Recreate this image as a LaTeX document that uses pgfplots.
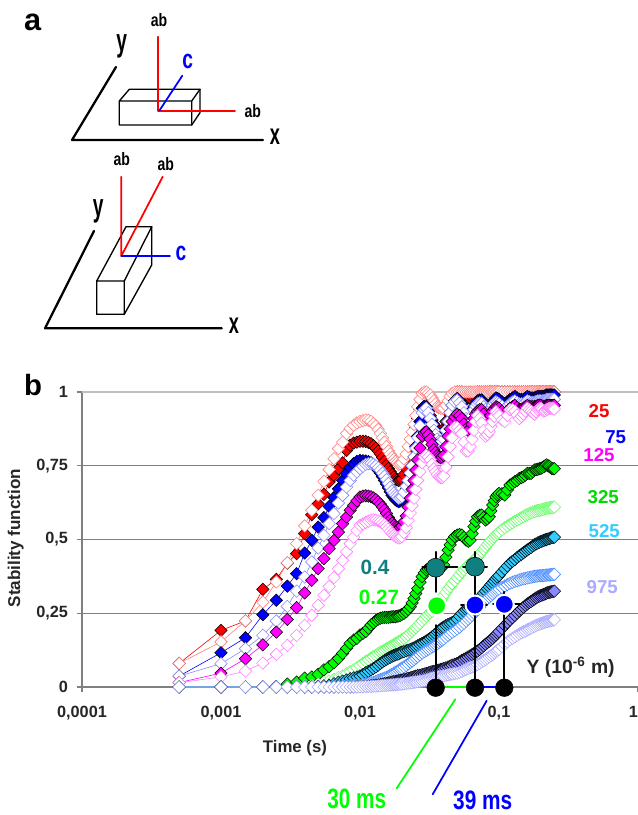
\documentclass[border=0pt]{standalone}
\usepackage{pgfplots}
\usepackage{pgfplotstable}
\usepackage{fontspec}
\setmainfont{Liberation Sans}
\pgfplotsset{compat=1.18}
\definecolor{mag}{HTML}{FF00FF}
\definecolor{salm}{HTML}{FF7F7F}
\definecolor{oblue}{HTML}{8888FF}
\definecolor{opink}{HTML}{FF80FF}
\definecolor{lgreen}{HTML}{66FF66}
\definecolor{tealf}{HTML}{33CCFF}
\definecolor{oblue2}{HTML}{4488FF}
\definecolor{lil}{HTML}{AAAAFF}
\definecolor{tealc}{HTML}{0F7F80}
\definecolor{ggrid}{HTML}{808080}
\definecolor{tick}{HTML}{262626}
\pgfplotstableread{
t R S B O M P G L T U K V
0.0005 0.08 0.08 0.037 0.037 0.015 0.015 0 0 0 0 0 0
0.001 0.192 0.153 0.116 0.079 0.047 0.034 0 0 0 0 0 0
0.0015 0.224 0.224 0.167 0.13 0.096 0.054 0 0 0 0 0 0
0.002 0.331 0.288 0.245 0.175 0.143 0.081 0 0 0 0 0 0
0.0025 0.365 0.356 0.294 0.224 0.186 0.111 0.002 0 0 0 0 0
0.003 0.42 0.421 0.342 0.273 0.229 0.141 0.01 0 0 0 0 0
0.0035 0.452 0.486 0.384 0.325 0.269 0.175 0.017 0 0 0 0 0
0.004 0.52 0.546 0.454 0.373 0.319 0.209 0.03 0.003 0 0 0 0
0.0045 0.584 0.599 0.497 0.424 0.362 0.243 0.034 0.006 0 0 0 0
0.005 0.621 0.65 0.542 0.471 0.401 0.277 0.043 0.01 0.002 0 0 0
0.0055 0.653 0.697 0.574 0.514 0.435 0.311 0.058 0.015 0.004 0 0 0
0.006 0.695 0.737 0.612 0.554 0.469 0.341 0.069 0.02 0.006 0.001 0 0
0.0065 0.718 0.774 0.642 0.588 0.497 0.371 0.082 0.026 0.011 0.001 0 0
0.007 0.74 0.808 0.672 0.624 0.525 0.401 0.097 0.032 0.016 0.002 0 0
0.0075 0.76 0.83 0.70 0.65 0.554 0.429 0.114 0.038 0.02 0.002 0 0
0.008 0.802 0.859 0.723 0.678 0.576 0.458 0.131 0.045 0.024 0.003 0 0
0.0085 0.82 0.876 0.744 0.70 0.599 0.486 0.148 0.052 0.028 0.003 0 0
0.009 0.827 0.887 0.757 0.718 0.616 0.508 0.159 0.058 0.031 0.004 0 0
0.0095 0.83 0.895 0.765 0.729 0.631 0.531 0.165 0.065 0.034 0.005 0.001 0
0.01 0.833 0.90 0.768 0.74 0.644 0.548 0.176 0.073 0.037 0.006 0.002 0.001
0.0105 0.833 0.903 0.767 0.748 0.647 0.553 0.182 0.08 0.042 0.008 0.002 0.001
0.011 0.832 0.905 0.766 0.755 0.648 0.558 0.188 0.087 0.048 0.01 0.003 0.002
0.0115 0.829 0.904 0.764 0.757 0.647 0.562 0.199 0.092 0.053 0.012 0.003 0.002
0.012 0.825 0.90 0.76 0.758 0.645 0.566 0.21 0.098 0.058 0.014 0.004 0.002
0.0125 0.818 0.893 0.753 0.755 0.641 0.567 0.218 0.103 0.063 0.016 0.005 0.003
0.013 0.81 0.885 0.745 0.75 0.635 0.566 0.225 0.108 0.068 0.019 0.006 0.003
0.0135 0.80 0.873 0.735 0.743 0.628 0.563 0.23 0.113 0.074 0.022 0.007 0.004
0.014 0.79 0.86 0.725 0.735 0.62 0.56 0.233 0.118 0.08 0.025 0.008 0.004
0.0145 0.778 0.845 0.713 0.725 0.61 0.555 0.235 0.121 0.085 0.027 0.01 0.005
0.015 0.765 0.83 0.70 0.715 0.60 0.55 0.236 0.125 0.09 0.03 0.011 0.005
0.0155 0.752 0.815 0.688 0.703 0.588 0.543 0.236 0.129 0.094 0.033 0.012 0.006
0.016 0.74 0.80 0.675 0.69 0.575 0.535 0.236 0.133 0.098 0.036 0.014 0.006
0.0165 0.73 0.79 0.662 0.677 0.565 0.527 0.237 0.137 0.101 0.04 0.015 0.007
0.017 0.72 0.78 0.65 0.665 0.555 0.52 0.238 0.14 0.104 0.043 0.017 0.007
0.0175 0.712 0.772 0.642 0.657 0.548 0.515 0.238 0.143 0.107 0.047 0.018 0.008
0.018 0.705 0.765 0.635 0.65 0.542 0.51 0.238 0.147 0.109 0.05 0.019 0.008
0.0185 0.702 0.76 0.631 0.645 0.54 0.507 0.24 0.15 0.111 0.053 0.02 0.009
0.019 0.70 0.755 0.628 0.64 0.538 0.505 0.241 0.153 0.113 0.057 0.021 0.009
0.0195 0.702 0.757 0.631 0.642 0.541 0.507 0.243 0.157 0.116 0.061 0.022 0.01
0.02 0.705 0.76 0.635 0.645 0.545 0.51 0.246 0.16 0.118 0.064 0.023 0.01
0.0207 0.72 0.773 0.65 0.66 0.56 0.523 0.25 0.165 0.12 0.068 0.025 0.011
0.0215 0.74 0.79 0.67 0.68 0.58 0.54 0.255 0.17 0.123 0.073 0.027 0.012
0.0222 0.765 0.815 0.695 0.70 0.61 0.565 0.263 0.177 0.125 0.078 0.029 0.013
0.023 0.79 0.84 0.72 0.725 0.64 0.59 0.272 0.183 0.127 0.084 0.031 0.014
0.0237 0.82 0.865 0.75 0.75 0.67 0.615 0.285 0.189 0.13 0.088 0.033 0.015
0.0245 0.85 0.89 0.78 0.78 0.70 0.64 0.30 0.195 0.133 0.093 0.035 0.016
0.0252 0.88 0.92 0.815 0.81 0.735 0.67 0.317 0.201 0.136 0.098 0.037 0.017
0.026 0.91 0.95 0.85 0.845 0.77 0.70 0.334 0.208 0.14 0.103 0.039 0.018
0.027 0.94 0.975 0.90 0.885 0.81 0.73 0.355 0.216 0.144 0.109 0.04 0.019
0.028 0.965 0.995 0.945 0.93 0.85 0.76 0.374 0.224 0.148 0.115 0.042 0.02
0.029 0.965 1 0.952 0.94 0.862 0.78 0.387 0.232 0.152 0.12 0.044 0.022
0.03 0.96 1 0.95 0.945 0.865 0.785 0.397 0.24 0.156 0.124 0.046 0.024
0.031 0.94 0.995 0.935 0.93 0.855 0.78 0.40 0.246 0.16 0.128 0.048 0.026
0.032 0.92 0.99 0.915 0.91 0.84 0.77 0.402 0.252 0.165 0.132 0.05 0.028
0.033 0.905 0.98 0.895 0.89 0.822 0.755 0.402 0.257 0.17 0.136 0.052 0.03
0.034 0.89 0.97 0.875 0.87 0.805 0.74 0.402 0.262 0.175 0.139 0.053 0.031
0.035 0.88 0.96 0.86 0.855 0.795 0.73 0.402 0.268 0.18 0.143 0.055 0.032
0.036 0.87 0.95 0.85 0.84 0.785 0.72 0.402 0.275 0.186 0.147 0.056 0.034
0.037 0.866 0.947 0.843 0.833 0.78 0.713 0.402 0.283 0.191 0.151 0.058 0.035
0.038 0.865 0.945 0.84 0.83 0.777 0.71 0.402 0.292 0.196 0.155 0.059 0.036
0.039 0.868 0.945 0.843 0.832 0.779 0.71 0.406 0.301 0.20 0.159 0.061 0.037
0.04 0.875 0.945 0.85 0.84 0.785 0.715 0.414 0.31 0.203 0.163 0.063 0.038
0.0415 0.90 0.955 0.875 0.87 0.815 0.745 0.44 0.32 0.208 0.169 0.065 0.04
0.043 0.93 0.97 0.90 0.90 0.85 0.78 0.464 0.332 0.212 0.175 0.068 0.041
0.0445 0.96 0.985 0.93 0.93 0.875 0.815 0.482 0.34 0.215 0.18 0.071 0.043
0.046 0.985 0.995 0.955 0.955 0.90 0.845 0.498 0.35 0.218 0.186 0.074 0.044
0.048 0.995 1 0.97 0.967 0.915 0.88 0.51 0.36 0.224 0.191 0.077 0.046
0.05 1 1 0.978 0.973 0.925 0.88 0.515 0.37 0.23 0.197 0.08 0.047
0.052 1 1 0.97 0.963 0.92 0.87 0.517 0.38 0.24 0.203 0.085 0.05
0.054 1 1 0.96 0.95 0.91 0.86 0.515 0.39 0.25 0.21 0.09 0.053
0.056 0.995 1 0.942 0.93 0.892 0.83 0.507 0.398 0.257 0.216 0.094 0.057
0.058 0.985 1 0.925 0.91 0.875 0.80 0.498 0.405 0.262 0.223 0.098 0.06
0.06 0.98 1 0.918 0.902 0.87 0.80 0.494 0.412 0.265 0.23 0.102 0.063
0.062 0.98 1 0.92 0.905 0.875 0.815 0.498 0.418 0.268 0.236 0.106 0.066
0.064 0.985 1 0.935 0.92 0.89 0.84 0.52 0.424 0.271 0.243 0.11 0.068
0.066 0.99 1 0.95 0.94 0.91 0.87 0.544 0.43 0.275 0.25 0.114 0.07
0.068 0.995 1 0.96 0.952 0.925 0.90 0.562 0.435 0.282 0.256 0.118 0.073
0.07 1 1 0.97 0.96 0.935 0.92 0.577 0.44 0.29 0.262 0.122 0.076
0.0725 1 1 0.973 0.963 0.94 0.91 0.582 0.449 0.30 0.271 0.127 0.08
0.075 1 1 0.973 0.962 0.94 0.895 0.583 0.458 0.31 0.28 0.133 0.085
0.0775 1 1 0.962 0.95 0.925 0.87 0.574 0.466 0.318 0.288 0.139 0.089
0.08 1 1 0.95 0.94 0.905 0.85 0.566 0.475 0.325 0.295 0.145 0.093
0.0825 1 1 0.947 0.935 0.903 0.855 0.57 0.483 0.333 0.30 0.15 0.098
0.085 1 1 0.945 0.933 0.905 0.865 0.577 0.49 0.34 0.305 0.155 0.102
0.0875 1 1 0.955 0.943 0.92 0.883 0.597 0.497 0.347 0.31 0.16 0.106
0.09 1 1 0.965 0.955 0.935 0.90 0.617 0.503 0.353 0.315 0.165 0.11
0.0925 1 1 0.973 0.962 0.943 0.917 0.632 0.509 0.36 0.32 0.171 0.115
0.095 1 1 0.98 0.967 0.95 0.933 0.645 0.515 0.367 0.325 0.176 0.12
0.0975 1 1 0.978 0.964 0.948 0.927 0.652 0.52 0.373 0.329 0.182 0.124
0.1 1 1 0.975 0.96 0.945 0.92 0.656 0.525 0.378 0.332 0.188 0.128
0.105 1 1 0.967 0.952 0.935 0.905 0.655 0.533 0.39 0.337 0.198 0.137
0.11 1 1 0.96 0.945 0.925 0.90 0.651 0.54 0.40 0.342 0.208 0.145
0.115 1 1 0.968 0.952 0.935 0.92 0.668 0.546 0.41 0.347 0.218 0.153
0.12 1 1 0.975 0.96 0.945 0.94 0.685 0.552 0.42 0.352 0.227 0.16
0.125 1 1 0.98 0.966 0.95 0.94 0.69 0.557 0.426 0.355 0.235 0.165
0.13 1 1 0.985 0.97 0.955 0.935 0.696 0.562 0.432 0.358 0.243 0.17
0.135 1 1 0.98 0.965 0.948 0.922 0.70 0.566 0.439 0.36 0.25 0.175
0.14 1 1 0.975 0.96 0.94 0.91 0.707 0.57 0.445 0.363 0.258 0.18
0.145 1 1 0.975 0.96 0.942 0.917 0.71 0.574 0.45 0.365 0.264 0.184
0.15 1 1 0.975 0.96 0.945 0.925 0.713 0.578 0.455 0.367 0.27 0.187
0.155 1 1 0.98 0.965 0.95 0.935 0.718 0.582 0.46 0.368 0.276 0.19
0.16 1 1 0.985 0.97 0.955 0.945 0.724 0.585 0.465 0.37 0.282 0.194
0.165 1 1 0.982 0.968 0.952 0.94 0.724 0.588 0.469 0.371 0.286 0.197
0.17 1 1 0.98 0.965 0.95 0.935 0.724 0.59 0.473 0.372 0.29 0.20
0.175 1 1 0.98 0.965 0.95 0.93 0.73 0.593 0.478 0.374 0.294 0.203
0.18 1 1 0.98 0.965 0.95 0.925 0.736 0.595 0.482 0.375 0.298 0.206
0.185 1 1 0.983 0.968 0.952 0.932 0.737 0.597 0.485 0.376 0.302 0.209
0.19 1 1 0.985 0.97 0.955 0.94 0.738 0.598 0.488 0.376 0.305 0.211
0.195 1 1 0.985 0.97 0.955 0.943 0.74 0.599 0.491 0.377 0.308 0.213
0.2 1 1 0.985 0.97 0.955 0.945 0.741 0.60 0.493 0.377 0.31 0.215
0.205 1 1 0.985 0.97 0.952 0.94 0.744 0.602 0.495 0.378 0.312 0.217
0.21 1 1 0.985 0.97 0.95 0.935 0.747 0.603 0.497 0.378 0.314 0.218
0.215 1 1 0.988 0.972 0.952 0.937 0.75 0.605 0.499 0.379 0.316 0.22
0.22 1 1 0.99 0.975 0.955 0.94 0.753 0.606 0.50 0.379 0.318 0.222
0.225 1 1 0.99 0.975 0.955 0.942 0.75 0.607 0.502 0.38 0.32 0.223
0.23 1 1 0.99 0.975 0.955 0.945 0.748 0.608 0.503 0.38 0.321 0.224
0.235 1 1 0.99 0.975 0.955 0.945 0.744 0.608 0.505 0.381 0.322 0.225
0.24 1 1 0.99 0.975 0.955 0.945 0.74 0.608 0.506 0.381 0.323 0.226
0.245 1 1 0.99 0.975 0.955 0.944 0.74 0.609 0.507 0.382 0.324 0.227
0.25 1 1 0.99 0.975 0.955 0.942 0.74 0.61 0.508 0.382 0.325 0.228
}\curves
\newcommand{\cond}[2]{\scalebox{#1}[1]{\bfseries #2}}
\pgfplotsset{
  filledser/.style={color=#1, line width=0.45pt, mark=square*, mark size=3.3pt,
    mark options={rotate=45, draw=black, line width=0.4pt, fill=#1}},
  openser/.style={color=#1, line width=0.45pt, mark=square*, mark size=3.3pt,
    mark options={rotate=45, draw=#1, line width=0.45pt, fill=white}},
}
\begin{document}
\begin{tikzpicture}
\path[use as bounding box] (0,0) rectangle (478.5pt,611.25pt);
\begin{axis}[
  at={(61.5pt,96pt)}, anchor=south west,
  scale only axis, width=417pt, height=221.25pt,
  xmode=log, xmin=0.0001, xmax=1, ymin=0, ymax=1,
  clip=false,
  axis x line=bottom, axis y line=left,
  axis line style={-, ggrid, line width=1.3pt},
  xtick={0.0001,0.001,0.01,0.1,1},
  xticklabels={0{,}0001,0{,}001,0{,}01,0{,}1,\makebox[0pt][r]{1}},
  minor x tick num=0, xminorticks=false,
  ytick={0,0.25,0.5,0.75,1},
  yticklabels={0,{0,25},{0,5},{0,75},1},
  tick style={ggrid, line width=0.8pt},
  tick align=outside, major tick length=4pt,
  ymajorgrids, grid style={ggrid, line width=1pt},
  x tick label style={font=\fontsize{12.2}{14}\selectfont\bfseries, text=tick, yshift=-7pt},
  y tick label style={font=\fontsize{12.2}{14}\selectfont\bfseries, text=tick, xshift=-3pt},
  xlabel={Time (s)}, ylabel={Stability function},
  xlabel style={font=\fontsize{12.6}{14}\selectfont\bfseries, text=tick, at={(axis description cs:0.383,-0.207)}, anchor=center},
  ylabel style={font=\fontsize{12.8}{14}\selectfont\bfseries, text=tick, at={(axis description cs:-0.119,0.505)}, anchor=center, rotate=0},
]
\addplot[color=gray!50, line width=1pt, forget plot] coordinates {(0.0001,1) (1,1)};
\addplot[filledser=red] table[x=t,y=R]{\curves};
\addplot[openser=salm] table[x=t,y=S]{\curves};
\addplot[filledser=blue] table[x=t,y=B]{\curves};
\addplot[openser=oblue] table[x=t,y=O]{\curves};
\addplot[filledser=mag] table[x=t,y=M]{\curves};
\addplot[openser=opink] table[x=t,y=P]{\curves};
\addplot[filledser=green] table[x=t,y=G]{\curves};
\addplot[openser=lgreen] table[x=t,y=L]{\curves};
\addplot[filledser=tealf] table[x=t,y=T]{\curves};
\addplot[openser=oblue2] table[x=t,y=U]{\curves};
\addplot[filledser=oblue] table[x=t,y=K]{\curves};
\addplot[openser=lil] table[x=t,y=V]{\curves};
\end{axis}
\begin{axis}[
  at={(0pt,0pt)}, anchor=south west,
  scale only axis, width=478.5pt, height=611.25pt,
  xmin=0, xmax=638, ymin=0, ymax=815, y dir=reverse,
  hide axis, clip=false, no markers,
  every axis plot/.append style={line cap=round, line join=round},
]
% panel a, upper sketch
\addplot[black, line width=1.7pt] coordinates {(116,67) (72,140) (263,140)};
\addplot[black, line width=1pt] coordinates {(119.3,101) (191.7,101) (191.7,125) (119.3,125) (119.3,101) (129.3,89.3) (200,89.3) (191.7,101)};
\addplot[black, line width=1pt] coordinates {(200,89.3) (200,112.7) (191.7,125)};
\addplot[red, line width=1.3pt] coordinates {(158.3,36.7) (158.3,110.7) (235,110.7)};
\addplot[blue, line width=1.3pt] coordinates {(159.3,110.7) (182.3,75.7)};
% panel a, lower sketch
\addplot[black, line width=1.7pt] coordinates {(94,231) (45,328.3) (221.7,328.3)};
\addplot[black, line width=1pt] coordinates {(96.7,281) (124.3,281) (124.3,314.3) (96.7,314.3) (96.7,281) (126,226.7) (151.7,226.7) (124.3,281)};
\addplot[black, line width=1pt] coordinates {(151.7,226.7) (151.7,265) (124.3,314.3)};
\addplot[red, line width=1.3pt] coordinates {(121.3,176.7) (121.3,256) (162.7,176.7)};
\addplot[blue, line width=1.3pt] coordinates {(121.3,256) (170,256)};
% panel b, reading lines
\addplot[black, line width=1.4pt] coordinates {(435.7,552) (435.7,592)};
\addplot[black, line width=1.4pt] coordinates {(435.7,625) (435.7,680)};
\addplot[black, line width=1.4pt] coordinates {(475,552) (475,680)};
\addplot[black, line width=1.4pt] coordinates {(504.3,592) (504.3,680)};
\addplot[green, line width=1.3pt] coordinates {(444,687) (467,687)};
\addplot[blue, line width=1.3pt] coordinates {(483,687) (496,687)};
\addplot[green, line width=1.3pt] coordinates {(455.3,699.3) (396.7,788.3)};
\addplot[blue, line width=1.3pt] coordinates {(486.7,700.7) (432.7,794.3)};
% panel b, reading points
\addplot[only marks, mark=*, mark size=7.1pt, mark options={draw=none, fill=tealc}] coordinates {(435.7,567.7) (475,566.7)};
\addplot[only marks, mark=*, mark size=7.1pt, mark options={draw=white, line width=1.5pt, fill=green}] coordinates {(436.7,605.7)};
\addplot[only marks, mark=*, mark size=7.1pt, mark options={draw=white, line width=1.5pt, fill=blue}] coordinates {(475,605) (504.3,604.3)};
\addplot[only marks, mark=*, mark size=6.6pt, mark options={draw=none, fill=black}] coordinates {(435.7,687.7) (475,687.7) (504.3,687.7)};
\addplot[black, line width=1.5pt] coordinates {(422.3,567.3) (457.3,567.3)};
\addplot[black, line width=1.5pt] coordinates {(463,566.7) (487,566.7)};
\addplot[black, line width=1.5pt] coordinates {(461,605) (487,605)};
\addplot[black, line width=1.5pt] coordinates {(493,604.3) (520,604.3)};
\addplot[black, line width=1.4pt] coordinates {(435.7,552) (435.7,580)};
\addplot[black, line width=1.4pt] coordinates {(475,552) (475,580)};
\addplot[black, line width=1.4pt] coordinates {(475,595) (475,618)};
\addplot[black, line width=1.4pt] coordinates {(504.3,592) (504.3,618)};
% panel letters
\node[font=\fontsize{23}{25}\selectfont\bfseries] at (axis cs:32.7,22) {a};
\node[font=\fontsize{22}{24}\selectfont\bfseries] at (axis cs:33,385) {b};
% sketch labels
\node[font=\fontsize{13.5}{15}\selectfont] at (axis cs:159,20) {\cond{0.78}{ab}};
\node[font=\fontsize{13.5}{15}\selectfont] at (axis cs:252.7,111) {\cond{0.78}{ab}};
\node[font=\fontsize{13.5}{15}\selectfont] at (axis cs:121.7,159) {\cond{0.78}{ab}};
\node[font=\fontsize{13.5}{15}\selectfont] at (axis cs:165.7,164.3) {\cond{0.78}{ab}};
\node[font=\fontsize{24}{26}\selectfont] at (axis cs:121.7,46.7) {\cond{0.6}{y}};
\node[font=\fontsize{24}{26}\selectfont] at (axis cs:98.3,211.7) {\cond{0.6}{y}};
\node[font=\fontsize{22}{24}\selectfont] at (axis cs:275,137) {\cond{0.62}{x}};
\node[font=\fontsize{22}{24}\selectfont] at (axis cs:234,325.5) {\cond{0.62}{x}};
\node[font=\fontsize{20}{22}\selectfont, text=blue] at (axis cs:187.7,61) {\cond{0.72}{c}};
\node[font=\fontsize{20}{22}\selectfont, text=blue] at (axis cs:181,253) {\cond{0.72}{c}};
% series labels
\node[font=\fontsize{14}{16}\selectfont\bfseries, text=red] at (axis cs:599,410.7) {25};
\node[font=\fontsize{14}{16}\selectfont\bfseries, text=blue] at (axis cs:615.7,436.7) {75};
\node[font=\fontsize{14}{16}\selectfont\bfseries, text=mag] at (axis cs:599,455) {125};
\node[font=\fontsize{14}{16}\selectfont\bfseries, text=green!85!black] at (axis cs:603.3,497.3) {325};
\node[font=\fontsize{14}{16}\selectfont\bfseries, text=tealf] at (axis cs:604.3,530.7) {525};
\node[font=\fontsize{14}{16}\selectfont\bfseries, text=lil] at (axis cs:602.3,586.7) {975};
\node[font=\fontsize{15.5}{18}\selectfont\bfseries, text=tealc] at (axis cs:375,567.7) {0.4};
\node[font=\fontsize{15.5}{18}\selectfont\bfseries, text=green] at (axis cs:379,597.7) {0.27};
\node[font=\fontsize{14.5}{17}\selectfont\bfseries, text=tick] at (axis cs:570.7,667.5) {Y (10\textsuperscript{-6} m)};
\node[font=\fontsize{21}{24}\selectfont, text=green] at (axis cs:356.7,798.5) {\cond{0.74}{30 ms}};
\node[font=\fontsize{20}{22}\selectfont, text=blue] at (axis cs:482.7,800) {\cond{0.78}{39 ms}};
\end{axis}
\end{tikzpicture}
\end{document}
